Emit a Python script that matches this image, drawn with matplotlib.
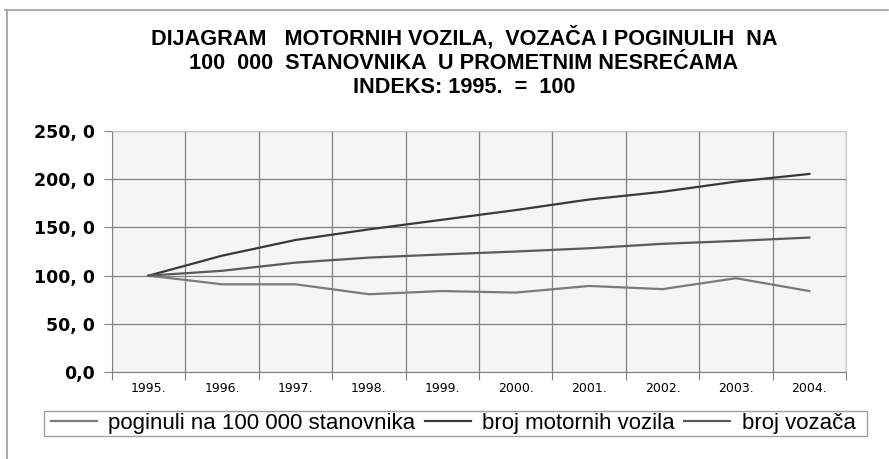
import matplotlib.pyplot as plt
from matplotlib.lines import Line2D
from matplotlib.patches import Rectangle

years = ["1995.", "1996.", "1997.", "1998.", "1999.", "2000.", "2001.", "2002.", "2003.", "2004."]
poginuli = [100.0, 91.0, 91.0, 80.7, 84.0, 82.4, 89.3, 86.0, 97.3, 84.0]
vozila = [100.0, 120.7, 137.0, 148.0, 158.0, 168.0, 179.0, 187.0, 197.5, 205.5]
vozaci = [100.0, 105.0, 113.5, 118.7, 122.0, 125.0, 128.4, 133.0, 136.0, 139.5]
y_ticks = [0, 50, 100, 150, 200, 250]
y_labels = ["0,0", "50, 0", "100, 0", "150, 0", "200, 0", "250, 0"]

title = ("DIJAGRAM   MOTORNIH VOZILA,  VOZAČA I POGINULIH  NA\n"
         "100  000  STANOVNIKA  U PROMETNIM NESREĆAMA\n"
         "INDEKS: 1995.  =  100")

W, H = 889, 459
fig = plt.figure(figsize=(W / 100, H / 100), dpi=100)
ax = fig.add_axes([0.126, 0.1895, 0.8257, 0.525])
ax.set_facecolor("#f5f5f5")

x = list(range(len(years)))
ax.plot(x, poginuli, color="#7a7a7a", lw=1.6, label="poginuli na 100 000 stanovnika")
ax.plot(x, vozila, color="#383838", lw=1.6, label="broj motornih vozila")
ax.plot(x, vozaci, color="#5a5a5a", lw=1.6, label="broj vozača")

ax.set_xlim(-0.5, len(years) - 0.5)
ax.set_ylim(0, 250)

# granice kategorija kao glavne oznake / mreža, nazivi u sredini
ax.set_xticks([i - 0.5 for i in range(len(years) + 1)])
ax.set_xticklabels([])
ax.set_xticks(x, minor=True)
ax.set_xticklabels(years, minor=True, fontsize=9, family="DejaVu Sans")
ax.tick_params(axis="x", which="minor", length=0, pad=7)
ax.tick_params(axis="x", which="major", length=6, color="#808080")

ax.set_yticks(y_ticks)
ax.set_yticklabels(y_labels, fontsize=12.5, fontweight="bold", family="DejaVu Sans")
ax.tick_params(axis="y", length=6, color="#808080", pad=6)

ax.grid(True, which="major", color="#808080", lw=0.9)
ax.set_axisbelow(True)

for s in ["top", "right"]:
    ax.spines[s].set_color("#c8c8c8")
for s in ["left", "bottom"]:
    ax.spines[s].set_color("#808080")

fig.text(464 / W, 1 - 26 / H, title, ha="center", va="top", fontsize=15.6, fontweight="bold",
         family="Liberation Sans", linespacing=1.2)

# okvir legende posebno, da razmak lijevo/desno bude kao u originalu
fig.add_artist(Rectangle((44 / W, 1 - 436 / H), 823 / W, 25 / H, transform=fig.transFigure,
                         facecolor="white", edgecolor="#a0a0a0", lw=1.0))
leg = fig.legend(loc="center", bbox_to_anchor=(453 / W, 1 - 423.5 / H), ncol=3, frameon=False,
                 prop={"family": "Liberation Sans", "size": 16},
                 handlelength=2.07, handletextpad=0.5, columnspacing=0.45,
                 borderpad=0, borderaxespad=0)

# vanjski okvir grafikona (vidljiv samo gore i lijevo)
fig.add_artist(Line2D([5 / W, 888 / W], [1 - 10 / H, 1 - 10 / H],
                      color="#a0a0a0", lw=1.2, transform=fig.transFigure))
fig.add_artist(Line2D([7 / W, 7 / W], [0, 1 - 10 / H],
                      color="#a0a0a0", lw=1.2, transform=fig.transFigure))

fig.savefig("out.png", dpi=100)
